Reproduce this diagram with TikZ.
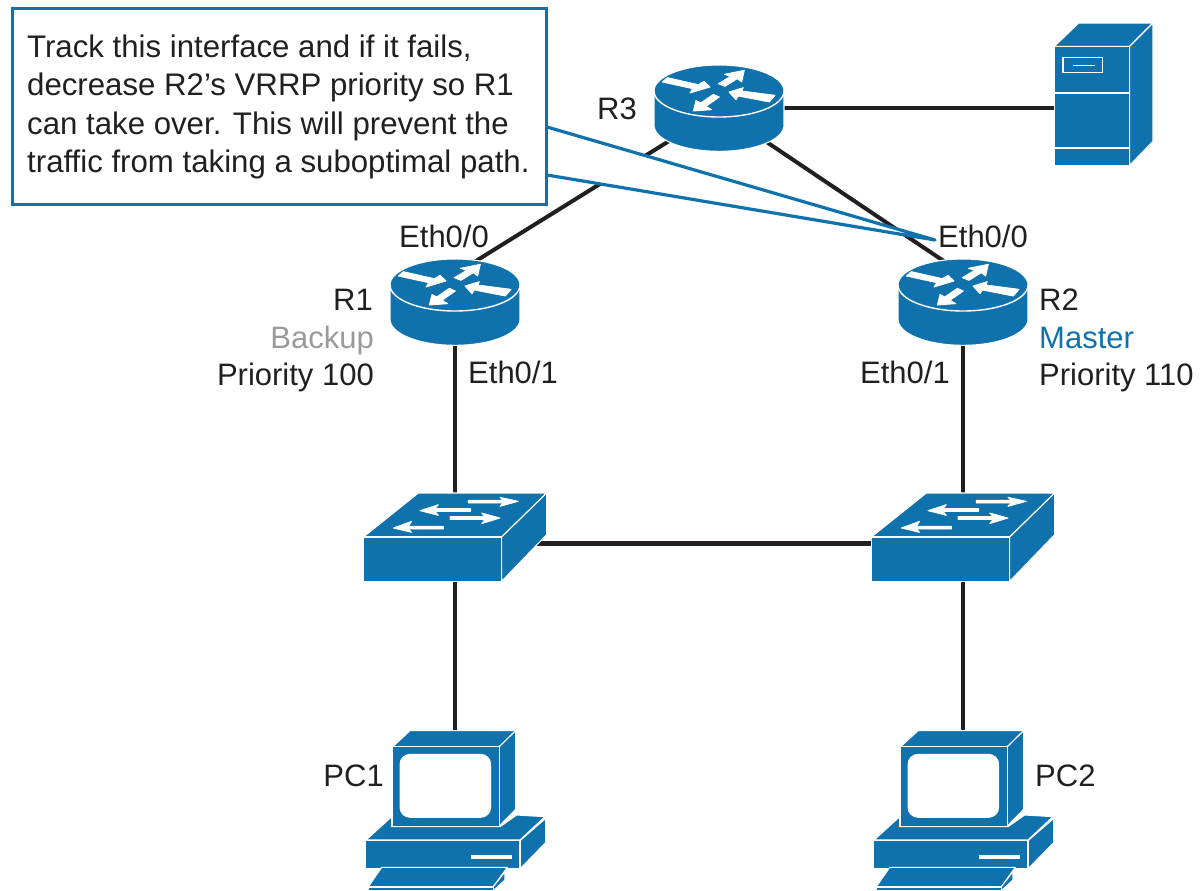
\documentclass[tikz,border=0pt]{standalone}
\usepackage{fontspec}
\setmainfont{Liberation Sans}
\definecolor{ciscoblue}{HTML}{0F72AD}
\definecolor{inkblack}{HTML}{231F20}
\definecolor{backupgray}{HTML}{9A9A9A}
\tikzset{
  lbl/.style={inner sep=0pt,text=inkblack,font=\fontsize{31}{36}\selectfont},
  wire/.style={draw=inkblack,line width=4pt},
  thickwire/.style={draw=inkblack,line width=5pt},
  iconface/.style={fill=ciscoblue,draw=white,line width=1.1pt,line join=round},
  iconmark/.style={fill=white,draw=white,line width=0.9pt,line join=round},
  iconline/.style={draw=white,line width=1.4pt},
  router/.pic={
    \begin{scope}[x=0.3333pt,y=-0.3333pt,shift={(-267,-122)}]
      \path[iconface] (72,122) -- (72,225) arc[start angle=180,end angle=360,x radius=195,y radius=-78] -- (462,122) arc[start angle=0,end angle=180,x radius=195,y radius=-78] -- cycle;
      \draw[iconline] (72,122) arc[start angle=180,end angle=360,x radius=195,y radius=-78];
      \path[iconmark] (97,95) -- (112,82) -- (205,103) -- (222,93) -- (240,110) -- (180,128) -- (188,115) -- cycle;
      \path[iconmark] (343,60) -- (335,95) -- (322,85) -- (285,108) -- (265,100) -- (302,78) -- (283,72) -- cycle;
      \path[iconmark] (297,125) -- (340,112) -- (335,122) -- (435,135) -- (418,155) -- (325,137) -- (318,148) -- cycle;
      \path[iconmark] (190,182) -- (198,150) -- (212,158) -- (250,132) -- (268,140) -- (228,168) -- (245,178) -- cycle;
    \end{scope}
  },
  switchicon/.pic={
    \begin{scope}[x=0.3333pt,y=-0.3333pt,shift={(-315,-172)}]
      \path[iconface] (40,172) -- (205,40) -- (590,40) -- (455,172) -- cycle;
      \path[iconface] (455,172) -- (590,40) -- (590,165) -- (455,305) -- cycle;
      \path[iconface] (40,172) rectangle (455,305);
      \path[iconmark] (355,62) -- (460,62) -- (450,53) -- (505,65) -- (450,80) -- (460,70) -- (355,70) -- cycle;
      \path[iconmark] (210,93) -- (265,75) -- (255,87) -- (362,87) -- (362,95) -- (255,95) -- (265,107) -- cycle;
      \path[iconmark] (450,115) -- (395,100) -- (405,111) -- (300,111) -- (300,119) -- (405,119) -- (395,132) -- cycle;
      \path[iconmark] (130,145) -- (185,125) -- (175,140) -- (280,140) -- (280,148) -- (175,148) -- (185,158) -- cycle;
    \end{scope}
  },
  servericon/.pic={
    \begin{scope}[x=0.3333pt,y=-0.3333pt,shift={(-275,-295)}]
      \path[iconface] (162,110) -- (235,40) -- (458,40) -- (388,110) -- cycle;
      \path[iconface] (388,110) -- (458,40) -- (458,395) -- (388,467) -- cycle;
      \path[iconface] (162,110) rectangle (388,467);
      \draw[iconline] (162,250) -- (388,250);
      \draw[iconline] (162,415) -- (388,415);
      \draw[iconline] (188,143) rectangle (307,188);
      \draw[iconline] (217,167) -- (283,167);
    \end{scope}
  },
  pcicon/.pic={
    \begin{scope}[x=0.3333pt,y=-0.3333pt,shift={(-315,-30)}]
      \path[iconface] (48,360) -- (125,290) -- (125,320) -- (450,320) -- (500,285) -- (585,290) -- (510,360) -- cycle;
      \path[iconface] (510,362) -- (587,295) -- (587,368) -- (510,447) -- cycle;
      \path[iconface] (45,362) rectangle (510,447);
      \path[iconmark] (363,405) rectangle (485,415);
      \path[iconface] (128,80) -- (180,32) -- (497,32) -- (448,80) -- cycle;
      \path[iconface] (448,80) -- (497,32) -- (497,268) -- (448,318) -- cycle;
      \path[iconface] (128,80) rectangle (448,320);
      \path[iconmark,rounded corners=10pt] (150,103) rectangle (422,292);
      \path[iconface] (55,500) -- (95,442) -- (472,442) -- (430,500) -- cycle;
      \path[iconface] (430,500) -- (465,455) -- (465,480) -- (430,512) -- cycle;
      \path[iconface] (55,502) rectangle (430,512);
    \end{scope}
  }
}
\begin{document}
\begin{tikzpicture}[x=1pt,y=-1pt]
  \useasboundingbox (0,0) rectangle (1202,891);
  % anchor points of the devices
  \coordinate (R1) at (455,274);
  \coordinate (R2) at (963,274);
  \coordinate (R3) at (719,110);
  \coordinate (R1d) at (455,320);
  \coordinate (R2d) at (963,320);
  \coordinate (R3c) at (719,108);
  \coordinate (SRV) at (1092,108);
  \coordinate (SW1) at (455,543);
  \coordinate (SW2) at (963,543);
  \coordinate (PC1) at (455,735);
  \coordinate (PC2) at (963,735);
  \coordinate (tip) at (935,240);
  \coordinate (lead1) at (547,127);
  \coordinate (lead2) at (547,175);
  % connectors
  \draw[wire] (R3) -- (R1);
  \draw[wire] (R3) -- (R2);
  \draw[wire] (R3c) -- (SRV);
  \draw[wire] (R1d) -- (SW1);
  \draw[wire] (R2d) -- (SW2);
  \draw[thickwire] (SW1) -- (SW2);
  \draw[wire] (SW1) -- (PC1);
  \draw[wire] (SW2) -- (PC2);
  % callout
  \path[fill=white,draw=ciscoblue,line width=3.2pt,line join=round] (lead1) -- (tip) -- (lead2);
  \node[draw=ciscoblue,fill=white,line width=3.2pt,minimum width=534pt,minimum height=196pt,anchor=north west,inner sep=0pt] (callout) at (11,7) {};
  \node[lbl,anchor=west,align=left,font=\fontsize{31.2}{38.3}\selectfont] (calloutText) at (27,107) {Track this interface and if it fails,\\decrease R2’s VRRP priority so R1\\can take over. This will prevent the\\traffic from taking a suboptimal path.};
  % devices
  \pic at (719,91) {router};
  \pic at (455,285) {router};
  \pic at (963,285) {router};
  \pic at (1092,108) {servericon};
  \pic at (455,537) {switchicon};
  \pic at (963,537) {switchicon};
  \pic at (455,730) {pcicon};
  \pic at (963,730) {pcicon};
  % labels
  \node[lbl,anchor=base east] (lR3) at (637,119) {R3};
  \node[lbl,anchor=base west] (lE1) at (399,247) {Eth0/0};
  \node[lbl,anchor=base west] (lE2) at (938,247) {Eth0/0};
  \node[lbl,anchor=base east] (lR1) at (373,310) {R1};
  \node[lbl,anchor=base east,text=backupgray] (lB) at (374,348) {Backup};
  \node[lbl,anchor=base east] (lP1) at (374,385) {Priority 100};
  \node[lbl,anchor=base west] (lE3) at (468,383) {Eth0/1};
  \node[lbl,anchor=base east] (lE4) at (950,383) {Eth0/1};
  \node[lbl,anchor=base west] (lR2) at (1039,310) {R2};
  \node[lbl,anchor=base west,text=ciscoblue] (lM) at (1039,348) {Master};
  \node[lbl,anchor=base west] (lP2) at (1039,385) {Priority 110};
  \node[lbl,anchor=base east] (lPC1) at (384,786) {PC1};
  \node[lbl,anchor=base west] (lPC2) at (1035,786) {PC2};
\end{tikzpicture}
\end{document}
